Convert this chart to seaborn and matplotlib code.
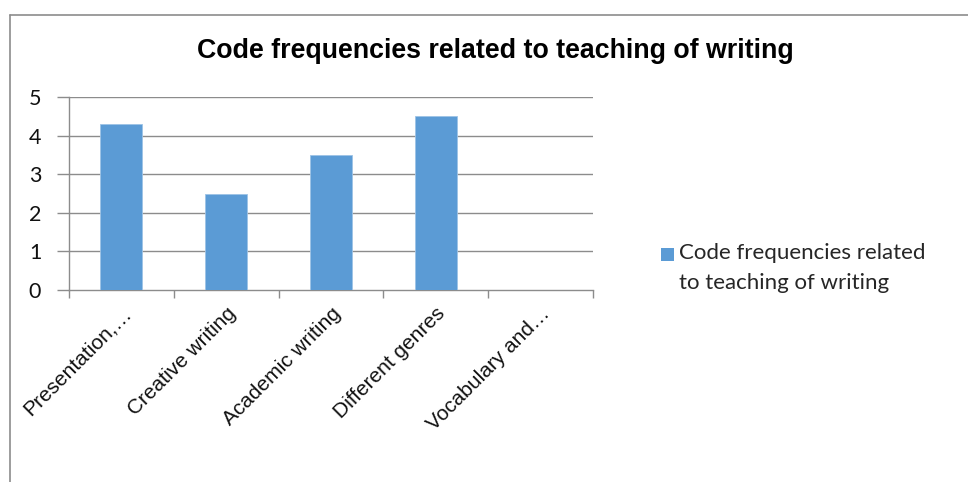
import matplotlib
matplotlib.use("Agg")
import matplotlib.pyplot as plt
from matplotlib.patches import Patch, Rectangle
from matplotlib.legend_handler import HandlerPatch
from matplotlib.lines import Line2D
import pandas as pd
import seaborn as sns

categories = ["Presentation,…", "Creative writing", "Academic writing",
              "Different genres", "Vocabulary and…"]
values = [4.3, 2.5, 3.5, 4.5, 0.0]
series_name = "Code frequencies related\nto teaching of writing"
title = "Code frequencies related to teaching of writing"
y_ticks = [0, 1, 2, 3, 4, 5]

BAR = "#5B9BD5"
GRID = "#8C8C8C"

sns.set_theme(style="white")
plt.rcParams["font.family"] = ["Liberation Sans", "DejaVu Sans"]

df = pd.DataFrame({"category": categories, "value": values})

W, H = 968, 482
fig = plt.figure(figsize=(W / 100, H / 100), dpi=100)
ax = fig.add_axes([69 / W, 1 - 290 / H, (593 - 69) / W, (290 - 97) / H])

sns.barplot(data=df, x="category", y="value", color=BAR, width=0.4,
            saturation=1, edgecolor="#9DC3E6", linewidth=0.6, ax=ax, zorder=3)

ax.set_xlim(-0.5, len(categories) - 0.5)
ax.set_ylim(0, 5)
ax.set_yticks(y_ticks)
ax.set_yticklabels([str(t) for t in y_ticks], fontfamily=["Lato", "DejaVu Sans"],
                   fontsize=15.5, color="#111111")
ax.set_xlabel("")
ax.set_ylabel("")

# horizontal gridlines
for t in y_ticks[1:]:
    ax.axhline(t, color=GRID, lw=1.0, zorder=1)

for side in ["top", "right"]:
    ax.spines[side].set_visible(False)
ax.spines["left"].set_color(GRID)
ax.spines["bottom"].set_color(GRID)
ax.spines["left"].set_linewidth(1.0)
ax.spines["bottom"].set_linewidth(1.0)

# category labels on major ticks, tick marks at category boundaries
ax.set_xticks(range(len(categories)))
ax.set_xticklabels(categories, rotation=45, ha="right", rotation_mode="anchor",
                   fontsize=15, color="#111111")
ax.set_xticks([i - 0.5 for i in range(len(categories) + 1)], minor=True)
ax.tick_params(axis="x", which="major", length=0, pad=10)
ax.tick_params(axis="x", which="minor", length=6, color=GRID, width=1.0,
               direction="out", bottom=True)
ax.tick_params(axis="y", which="major", length=9, color=GRID, width=1.0,
               direction="out", left=True, pad=11)

fig.text(495 / W, 1 - 51 / H, title, ha="center", va="center",
         fontsize=19.3, fontweight="bold", color="black")


class FirstLineSquare(HandlerPatch):
    """Legend key drawn level with the first line of a two-line label."""

    def __init__(self, lift, **kw):
        super().__init__(**kw)
        self.lift = lift

    def create_artists(self, legend, orig_handle, xdescent, ydescent,
                       width, height, fontsize, trans):
        side = min(width, height)
        p = Rectangle((-xdescent, -ydescent + self.lift), side, side,
                      facecolor=orig_handle.get_facecolor(), edgecolor="none",
                      transform=trans)
        return [p]


handle = Patch(facecolor=BAR, edgecolor="none")
leg = fig.legend([handle], [series_name], loc="upper left",
                 bbox_to_anchor=(661 / W, 1 - 243 / H), frameon=False,
                 prop={"family": ["Lato", "DejaVu Sans"], "size": 16},
                 handlelength=0.6, handleheight=0.6, handletextpad=0.2,
                 borderaxespad=0, borderpad=0,
                 handler_map={Patch: FirstLineSquare(lift=10)})
for txt in leg.get_texts():
    txt.set_linespacing(1.6)

# outer chart frame (top and left edges visible)
fig.add_artist(Line2D([9.5 / W, 9.5 / W], [0, 1 - 14.5 / H],
                      transform=fig.transFigure, color="#8C8C8C", lw=1.2))
fig.add_artist(Line2D([9.5 / W, 1], [1 - 14.5 / H, 1 - 14.5 / H],
                      transform=fig.transFigure, color="#8C8C8C", lw=1.2))

fig.savefig("out.png", dpi=100, facecolor="white")
